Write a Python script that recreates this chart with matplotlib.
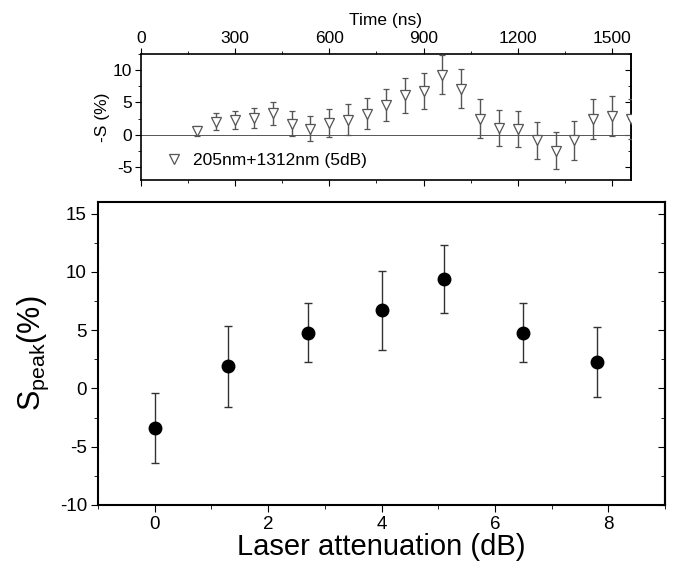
import matplotlib
matplotlib.use('Agg')
import matplotlib.pyplot as plt
from matplotlib.ticker import MultipleLocator
from matplotlib.lines import Line2D
import numpy as np

plt.rcParams['font.family'] = ['Liberation Sans', 'DejaVu Sans']
plt.rcParams['mathtext.fontset'] = 'custom'
plt.rcParams['mathtext.rm'] = 'Liberation Sans'
plt.rcParams['mathtext.it'] = 'Liberation Sans'
plt.rcParams['axes.unicode_minus'] = False

# top panel: -S vs time
time_ns = [180, 240, 300, 360, 420, 480, 540, 600, 660, 720, 780, 840,
           900, 960, 1020, 1080, 1140, 1200, 1260, 1320, 1380, 1440, 1500, 1560]
neg_s = [0.6, 2.0, 2.3, 2.6, 3.3, 1.7, 0.95, 1.8, 2.3, 3.2, 4.6, 6.1,
         6.8, 9.3, 7.1, 2.5, 1.0, 0.9, -0.9, -2.5, -0.9, 2.4, 2.9, 2.4]
neg_s_err = [0.8, 1.3, 1.4, 1.6, 1.8, 1.9, 2.0, 2.1, 2.4, 2.4, 2.5, 2.7,
             2.8, 3.0, 3.0, 3.0, 2.8, 2.8, 2.8, 2.85, 2.95, 3.05, 3.1, 3.1]
legend_label = '205nm+1312nm (5dB)'

# bottom panel: S_peak vs laser attenuation
atten_db = [0, 1.3, 2.7, 4.0, 5.1, 6.5, 7.8]
s_peak = [-3.4, 1.9, 4.8, 6.7, 9.4, 4.8, 2.3]
s_peak_err = [3.0, 3.5, 2.5, 3.4, 2.95, 2.5, 3.0]

fig = plt.figure(figsize=(6.77, 5.73), dpi=100)

gray = '#555555'
ax1 = fig.add_axes([0.208, 0.686, 0.724, 0.220])
ax1.axhline(0, color='#555555', lw=0.7, zorder=1)
ax1.errorbar(time_ns, neg_s, yerr=neg_s_err, fmt='v', ms=7, mfc='white',
             mec=gray, mew=0.9, ecolor=gray, elinewidth=1.0, capsize=2.5,
             capthick=1.0, zorder=3)
ax1.set_xlim(0, 1560)
ax1.set_ylim(-7, 12.5)
ax1.xaxis.tick_top()
ax1.xaxis.set_label_position('top')
ax1.set_xlabel('Time (ns)', fontsize=12.5, labelpad=4)
ax1.set_ylabel('-S (%)', fontsize=12.5, labelpad=2)
ax1.xaxis.set_major_locator(MultipleLocator(300))
ax1.xaxis.set_minor_locator(MultipleLocator(150))
ax1.yaxis.set_major_locator(MultipleLocator(5))
ax1.yaxis.set_minor_locator(MultipleLocator(2.5))
ax1.tick_params(axis='both', which='both', direction='out', labelsize=12.5,
                top=True, bottom=True, left=True, right=False, pad=2)
ax1.tick_params(which='major', length=4)
ax1.tick_params(which='minor', length=2.5)
ax1r = ax1.secondary_yaxis('right')
ax1r.yaxis.set_major_locator(MultipleLocator(5))
ax1r.yaxis.set_minor_locator(MultipleLocator(2.5))
ax1r.tick_params(which='both', direction='in', labelright=False)
ax1r.tick_params(which='major', length=4)
ax1r.tick_params(which='minor', length=2.5)
for sp in ax1.spines.values():
    sp.set_linewidth(1.2)
ax1r.spines['right'].set_linewidth(1.2)

# legend shows only the marker, no error bar
handle = Line2D([], [], ls='none', marker='v', ms=7, mfc='white', mec=gray, mew=0.9)
ax1.legend([handle], [legend_label], loc='lower left', frameon=False, fontsize=12.5,
           handlelength=1.0, handletextpad=0.6, borderaxespad=0.3,
           bbox_to_anchor=(0.026, 0.0))

ax2 = fig.add_axes([0.1448, 0.1187, 0.8375, 0.5288])
ax2.errorbar(atten_db, s_peak, yerr=s_peak_err, fmt='o', ms=9, color='black',
             ecolor='#333333', elinewidth=1.0, capsize=3, capthick=1.0, zorder=3)
ax2.set_xlim(-1, 9)
ax2.set_ylim(-10, 16)
ax2.xaxis.set_major_locator(MultipleLocator(2))
ax2.xaxis.set_minor_locator(MultipleLocator(1))
ax2.yaxis.set_major_locator(MultipleLocator(5))
ax2.yaxis.set_minor_locator(MultipleLocator(2.5))
ax2.tick_params(axis='both', which='both', direction='out', labelsize=13.5,
                top=False, right=False, pad=3)
ax2.tick_params(which='major', length=5)
ax2.tick_params(which='minor', length=3)
ax2r = ax2.secondary_yaxis('right')
ax2r.yaxis.set_major_locator(MultipleLocator(5))
ax2r.yaxis.set_minor_locator(MultipleLocator(2.5))
ax2r.tick_params(which='both', direction='in', labelright=False)
ax2r.tick_params(which='major', length=5)
ax2r.tick_params(which='minor', length=3)
for sp in ax2.spines.values():
    sp.set_linewidth(1.5)
ax2r.spines['right'].set_linewidth(1.5)
ax2.set_xlabel('Laser attenuation (dB)', fontsize=21, labelpad=0)
ax2.set_ylabel(r'$\mathrm{S_{peak}}$(%)', fontsize=22, labelpad=6)

fig.savefig('out.png', dpi=100)
